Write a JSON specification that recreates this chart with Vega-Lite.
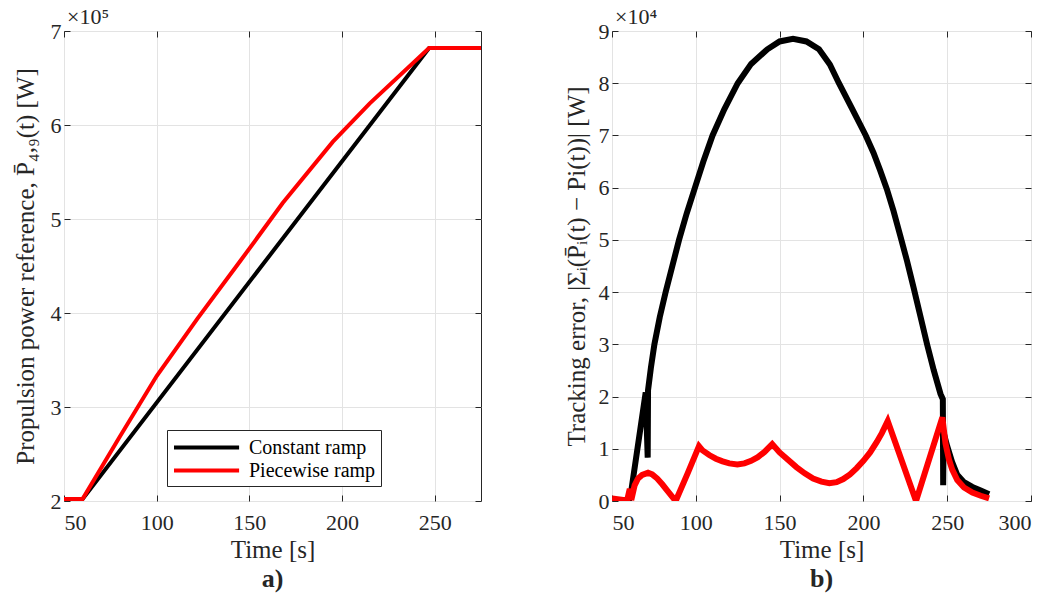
{
  "$schema": "https://vega.github.io/schema/vega-lite/v6.json",
  "padding": {"left": 12, "top": 5, "right": 0, "bottom": 0},
  "spacing": 78,
  "config": {
    "view": {"stroke": "#262626", "strokeWidth": 1},
    "axis": {
      "labelFont": "Liberation Serif", "labelFontSize": 22, "labelColor": "#262626",
      "titleFont": "Liberation Serif", "titleFontSize": 25, "titleFontWeight": "normal", "titleColor": "#262626",
      "gridColor": "#e3e3e3", "gridWidth": 1, "domain": false,
      "tickColor": "#262626", "tickSize": -6, "labelPadding": 9
    },
    "axisX": {"labelPadding": 17},
    "title": {"font": "Liberation Serif", "fontSize": 26, "fontWeight": "bold", "color": "#262626"}
  },
  "resolve": {"scale": {"color": "independent"}},
  "hconcat": [
    {
      "width": 417, "height": 470,
      "title": {"text": "a)", "orient": "bottom", "offset": 4},
      "data": {"values": [
        {"t": 50, "p": 202000, "s": "Constant ramp"},
        {"t": 60, "p": 202000, "s": "Constant ramp"},
        {"t": 247, "p": 682000, "s": "Constant ramp"},
        {"t": 275, "p": 682000, "s": "Constant ramp"},
        {"t": 50, "p": 202000, "s": "Piecewise ramp"},
        {"t": 60, "p": 202000, "s": "Piecewise ramp"},
        {"t": 80, "p": 268000, "s": "Piecewise ramp"},
        {"t": 100, "p": 333000, "s": "Piecewise ramp"},
        {"t": 122, "p": 394000, "s": "Piecewise ramp"},
        {"t": 145, "p": 455000, "s": "Piecewise ramp"},
        {"t": 168, "p": 517000, "s": "Piecewise ramp"},
        {"t": 195, "p": 582000, "s": "Piecewise ramp"},
        {"t": 215, "p": 623000, "s": "Piecewise ramp"},
        {"t": 247, "p": 682000, "s": "Piecewise ramp"},
        {"t": 275, "p": 682000, "s": "Piecewise ramp"}
      ]},
      "resolve": {"axis": {"x": "independent", "y": "independent"}},
      "layer": [
        {
          "mark": {"type": "line", "strokeWidth": 4, "clip": true},
          "encoding": {
            "x": {"field": "t", "type": "quantitative", "scale": {"domain": [50, 275], "nice": false},
                  "axis": {"values": [50, 100, 150, 200, 250], "title": "Time [s]", "titlePadding": 4}},
            "y": {"field": "p", "type": "quantitative", "scale": {"domain": [200000, 700000], "nice": false},
                  "axis": {"values": [200000, 300000, 400000, 500000, 600000, 700000], "labelExpr": "datum.value/100000",
                           "title": "Propulsion power reference, P̄₄,₉(t) [W]", "titlePadding": 12}},
            "color": {"field": "s", "type": "nominal",
                      "scale": {"domain": ["Constant ramp", "Piecewise ramp"], "range": ["#000000", "#ff0000"]},
                      "legend": {"orient": "none", "legendX": 103, "legendY": 399, "title": null,
                                 "strokeColor": "#262626", "fillColor": "#ffffff", "padding": 5,
                                 "labelFont": "Liberation Serif", "labelFontSize": 20, "labelColor": "#000000",
                                 "symbolType": "M-1,0H5.2", "symbolStrokeWidth": 4, "symbolSize": 441,
                                 "labelOffset": 52, "rowPadding": 0}}
          }
        },
        {
          "mark": {"type": "point", "opacity": 0},
          "encoding": {
            "x": {"field": "t", "type": "quantitative", "axis": {"orient": "top", "values": [50, 100, 150, 200, 250], "labels": false, "title": null, "grid": false}},
            "y": {"field": "p", "type": "quantitative", "axis": {"orient": "right", "values": [200000, 300000, 400000, 500000, 600000, 700000], "labels": false, "title": null, "grid": false}}
          }
        },
        {
          "data": {"values": [{}]},
          "mark": {"type": "text", "align": "left", "baseline": "alphabetic", "dx": 3, "dy": -7, "font": "Liberation Serif", "fontSize": 22, "color": "#262626"},
          "encoding": {"x": {"datum": 50, "axis": null}, "y": {"datum": 700000, "axis": null}, "text": {"value": "×10⁵"}}
        }
      ]
    },
    {
      "width": 419, "height": 470,
      "title": {"text": "b)", "orient": "bottom", "offset": 4},
      "data": {"values": [
        {"t": 50, "e": 0, "s": "Constant ramp"},
        {"t": 60, "e": 0, "s": "Constant ramp"},
        {"t": 61.3, "e": 1500, "s": "Constant ramp"},
        {"t": 70.1, "e": 20800, "s": "Constant ramp"},
        {"t": 71.3, "e": 8300, "s": "Constant ramp"},
        {"t": 71.5, "e": 21200, "s": "Constant ramp"},
        {"t": 73.2, "e": 25500, "s": "Constant ramp"},
        {"t": 75.3, "e": 30000, "s": "Constant ramp"},
        {"t": 78.5, "e": 35200, "s": "Constant ramp"},
        {"t": 82, "e": 40000, "s": "Constant ramp"},
        {"t": 86, "e": 45000, "s": "Constant ramp"},
        {"t": 90, "e": 50000, "s": "Constant ramp"},
        {"t": 94.5, "e": 55000, "s": "Constant ramp"},
        {"t": 99.5, "e": 60000, "s": "Constant ramp"},
        {"t": 104.5, "e": 65000, "s": "Constant ramp"},
        {"t": 110, "e": 70000, "s": "Constant ramp"},
        {"t": 117, "e": 75000, "s": "Constant ramp"},
        {"t": 125, "e": 80000, "s": "Constant ramp"},
        {"t": 133, "e": 83700, "s": "Constant ramp"},
        {"t": 142.7, "e": 86500, "s": "Constant ramp"},
        {"t": 150, "e": 88000, "s": "Constant ramp"},
        {"t": 158, "e": 88500, "s": "Constant ramp"},
        {"t": 166, "e": 88000, "s": "Constant ramp"},
        {"t": 173.5, "e": 86500, "s": "Constant ramp"},
        {"t": 180, "e": 83600, "s": "Constant ramp"},
        {"t": 185.4, "e": 80000, "s": "Constant ramp"},
        {"t": 193, "e": 75300, "s": "Constant ramp"},
        {"t": 201.4, "e": 70000, "s": "Constant ramp"},
        {"t": 206, "e": 66700, "s": "Constant ramp"},
        {"t": 210, "e": 63300, "s": "Constant ramp"},
        {"t": 214, "e": 59700, "s": "Constant ramp"},
        {"t": 218, "e": 55500, "s": "Constant ramp"},
        {"t": 222, "e": 50800, "s": "Constant ramp"},
        {"t": 226, "e": 46000, "s": "Constant ramp"},
        {"t": 230, "e": 40800, "s": "Constant ramp"},
        {"t": 234, "e": 35400, "s": "Constant ramp"},
        {"t": 238, "e": 30000, "s": "Constant ramp"},
        {"t": 242, "e": 25000, "s": "Constant ramp"},
        {"t": 246, "e": 20500, "s": "Constant ramp"},
        {"t": 247.4, "e": 19500, "s": "Constant ramp"},
        {"t": 247.6, "e": 3000, "s": "Constant ramp"},
        {"t": 247.9, "e": 13000, "s": "Constant ramp"},
        {"t": 250, "e": 10500, "s": "Constant ramp"},
        {"t": 252.9, "e": 7500, "s": "Constant ramp"},
        {"t": 256, "e": 5000, "s": "Constant ramp"},
        {"t": 260, "e": 3600, "s": "Constant ramp"},
        {"t": 265, "e": 2700, "s": "Constant ramp"},
        {"t": 270, "e": 2000, "s": "Constant ramp"},
        {"t": 275, "e": 1300, "s": "Constant ramp"},
        {"t": 50, "e": 500, "s": "Piecewise ramp"},
        {"t": 59, "e": 100, "s": "Piecewise ramp"},
        {"t": 60.6, "e": 2300, "s": "Piecewise ramp"},
        {"t": 61.5, "e": 200, "s": "Piecewise ramp"},
        {"t": 63.5, "e": 3000, "s": "Piecewise ramp"},
        {"t": 65.5, "e": 4300, "s": "Piecewise ramp"},
        {"t": 68, "e": 5000, "s": "Piecewise ramp"},
        {"t": 71.5, "e": 5400, "s": "Piecewise ramp"},
        {"t": 74, "e": 5100, "s": "Piecewise ramp"},
        {"t": 77, "e": 4300, "s": "Piecewise ramp"},
        {"t": 80, "e": 3200, "s": "Piecewise ramp"},
        {"t": 83, "e": 2000, "s": "Piecewise ramp"},
        {"t": 86, "e": 800, "s": "Piecewise ramp"},
        {"t": 88, "e": 0, "s": "Piecewise ramp"},
        {"t": 95, "e": 5200, "s": "Piecewise ramp"},
        {"t": 101.9, "e": 10500, "s": "Piecewise ramp"},
        {"t": 104, "e": 9700, "s": "Piecewise ramp"},
        {"t": 108, "e": 8800, "s": "Piecewise ramp"},
        {"t": 112, "e": 8100, "s": "Piecewise ramp"},
        {"t": 116, "e": 7600, "s": "Piecewise ramp"},
        {"t": 120, "e": 7200, "s": "Piecewise ramp"},
        {"t": 124.8, "e": 7000, "s": "Piecewise ramp"},
        {"t": 129, "e": 7200, "s": "Piecewise ramp"},
        {"t": 133, "e": 7700, "s": "Piecewise ramp"},
        {"t": 137, "e": 8400, "s": "Piecewise ramp"},
        {"t": 141, "e": 9400, "s": "Piecewise ramp"},
        {"t": 145.6, "e": 10900, "s": "Piecewise ramp"},
        {"t": 150, "e": 9300, "s": "Piecewise ramp"},
        {"t": 155, "e": 7900, "s": "Piecewise ramp"},
        {"t": 160, "e": 6500, "s": "Piecewise ramp"},
        {"t": 165, "e": 5300, "s": "Piecewise ramp"},
        {"t": 170, "e": 4300, "s": "Piecewise ramp"},
        {"t": 175, "e": 3700, "s": "Piecewise ramp"},
        {"t": 179.7, "e": 3400, "s": "Piecewise ramp"},
        {"t": 184, "e": 3600, "s": "Piecewise ramp"},
        {"t": 188, "e": 4200, "s": "Piecewise ramp"},
        {"t": 192, "e": 5100, "s": "Piecewise ramp"},
        {"t": 196, "e": 6300, "s": "Piecewise ramp"},
        {"t": 200, "e": 7700, "s": "Piecewise ramp"},
        {"t": 204, "e": 9300, "s": "Piecewise ramp"},
        {"t": 208, "e": 11300, "s": "Piecewise ramp"},
        {"t": 211, "e": 13000, "s": "Piecewise ramp"},
        {"t": 214.5, "e": 15300, "s": "Piecewise ramp"},
        {"t": 231.4, "e": 0, "s": "Piecewise ramp"},
        {"t": 247.1, "e": 16000, "s": "Piecewise ramp"},
        {"t": 249, "e": 11000, "s": "Piecewise ramp"},
        {"t": 251, "e": 8000, "s": "Piecewise ramp"},
        {"t": 253, "e": 6000, "s": "Piecewise ramp"},
        {"t": 256, "e": 4000, "s": "Piecewise ramp"},
        {"t": 260, "e": 2600, "s": "Piecewise ramp"},
        {"t": 265, "e": 1600, "s": "Piecewise ramp"},
        {"t": 270, "e": 1000, "s": "Piecewise ramp"},
        {"t": 275, "e": 500, "s": "Piecewise ramp"}
      ]},
      "resolve": {"axis": {"x": "independent", "y": "independent"}},
      "layer": [
        {
          "mark": {"type": "line", "strokeWidth": 6, "clip": true},
          "encoding": {
            "x": {"field": "t", "type": "quantitative", "scale": {"domain": [50, 300], "nice": false},
                  "axis": {"values": [50, 100, 150, 200, 250, 300], "title": "Time [s]", "titlePadding": 4}},
            "y": {"field": "e", "type": "quantitative", "scale": {"domain": [0, 90000], "nice": false},
                  "axis": {"values": [0, 10000, 20000, 30000, 40000, 50000, 60000, 70000, 80000, 90000], "labelExpr": "datum.value/10000",
                           "title": "Tracking error, |Σᵢ(P̄ᵢ(t) − Pi(t))| [W]", "titlePadding": 9}},
            "color": {"field": "s", "type": "nominal",
                      "scale": {"domain": ["Constant ramp", "Piecewise ramp"], "range": ["#000000", "#ff0000"]},
                      "legend": null}
          }
        },
        {
          "mark": {"type": "point", "opacity": 0},
          "encoding": {
            "x": {"field": "t", "type": "quantitative", "axis": {"orient": "top", "values": [50, 100, 150, 200, 250, 300], "labels": false, "title": null, "grid": false}},
            "y": {"field": "e", "type": "quantitative", "axis": {"orient": "right", "values": [0, 10000, 20000, 30000, 40000, 50000, 60000, 70000, 80000, 90000], "labels": false, "title": null, "grid": false}}
          }
        },
        {
          "data": {"values": [{}]},
          "mark": {"type": "text", "align": "left", "baseline": "alphabetic", "dx": 3, "dy": -7, "font": "Liberation Serif", "fontSize": 22, "color": "#262626"},
          "encoding": {"x": {"datum": 50, "axis": null}, "y": {"datum": 90000, "axis": null}, "text": {"value": "×10⁴"}}
        }
      ]
    }
  ]
}
